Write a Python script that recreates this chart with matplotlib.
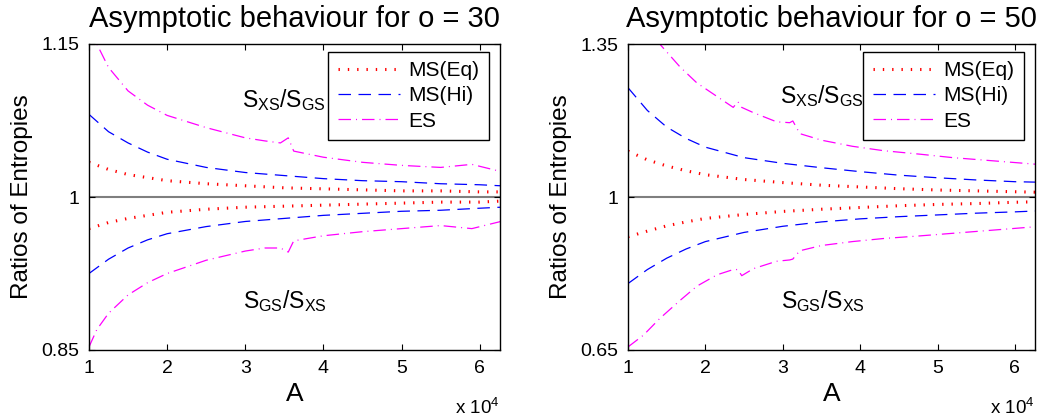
import matplotlib
matplotlib.use("Agg")
import matplotlib.pyplot as plt
from matplotlib.ticker import FuncFormatter

plt.rcParams['font.family'] = ['Liberation Sans', 'DejaVu Sans']
plt.rcParams['mathtext.fontset'] = 'custom'
plt.rcParams['mathtext.rm'] = 'Liberation Sans'
plt.rcParams['mathtext.it'] = 'Liberation Sans'

# ---- o = 30 ----
A30 = [10000, 12500, 15000, 17500, 20000, 25000, 30000, 35000, 40000, 45000, 50000, 55000, 60000, 62700]
eq30_up = [1.034, 1.027, 1.022, 1.019, 1.016, 1.013, 1.011, 1.009, 1.008, 1.007, 1.006, 1.006, 1.005, 1.005]
eq30_lo = [0.969, 0.975, 0.979, 0.982, 0.985, 0.988, 0.990, 0.991, 0.992, 0.993, 0.994, 0.995, 0.995, 0.996]
hi30_up = [1.081, 1.064, 1.053, 1.044, 1.037, 1.029, 1.024, 1.021, 1.018, 1.016, 1.015, 1.013, 1.012, 1.011]
hi30_lo = [0.925, 0.939, 0.950, 0.958, 0.964, 0.971, 0.976, 0.979, 0.982, 0.984, 0.986, 0.987, 0.989, 0.990]
A30_es = [10000, 11000, 12500, 15000, 17500, 20000, 25000, 30000, 32500, 34500, 35500, 36200,
          40000, 45000, 50000, 55000, 59000, 62700]
es30_up = [1.165, 1.150, 1.127, 1.104, 1.090, 1.080, 1.068, 1.058, 1.055, 1.053, 1.058, 1.045,
           1.039, 1.034, 1.031, 1.029, 1.032, 1.025]
es30_lo = [0.853, 0.870, 0.886, 0.904, 0.916, 0.925, 0.938, 0.947, 0.950, 0.950, 0.946, 0.957,
           0.962, 0.966, 0.969, 0.972, 0.969, 0.976]

# ---- o = 50 ----
A50 = [10000, 12500, 15000, 17500, 20000, 25000, 30000, 35000, 40000, 45000, 50000, 55000, 60000, 62700]
eq50_up = [1.105, 1.085, 1.071, 1.060, 1.051, 1.040, 1.033, 1.027, 1.023, 1.019, 1.016, 1.014, 1.012, 1.011]
eq50_lo = [0.909, 0.922, 0.934, 0.943, 0.951, 0.960, 0.967, 0.972, 0.976, 0.980, 0.983, 0.985, 0.988, 0.989]
hi50_up = [1.250, 1.198, 1.160, 1.134, 1.114, 1.090, 1.077, 1.067, 1.058, 1.050, 1.044, 1.039, 1.035, 1.034]
hi50_lo = [0.802, 0.834, 0.860, 0.881, 0.898, 0.919, 0.933, 0.943, 0.950, 0.955, 0.959, 0.963, 0.966, 0.968]
A50_es = [10000, 12000, 14100, 16700, 18900, 21500, 23600, 24200, 24700, 26200, 29200, 30900, 31300,
          32200, 35000, 39000, 43000, 47700, 52000, 56300, 62700]
es50_up = [1.470, 1.400, 1.350, 1.298, 1.261, 1.230, 1.205, 1.218, 1.205, 1.193, 1.172, 1.170, 1.174,
           1.145, 1.130, 1.116, 1.106, 1.098, 1.090, 1.084, 1.075]
es50_lo = [0.657, 0.684, 0.722, 0.763, 0.796, 0.822, 0.834, 0.834, 0.820, 0.836, 0.853, 0.856, 0.858,
           0.877, 0.889, 0.898, 0.905, 0.911, 0.917, 0.923, 0.932]

titles = ['Asymptotic behaviour for o = 30', 'Asymptotic behaviour for o = 50']
ylims = [(0.85, 1.15), (0.65, 1.35)]
yticks = [[0.85, 1, 1.15], [0.65, 1, 1.35]]
ytick_labels = [['0.85', '1', '1.15'], ['0.65', '1', '1.35']]
upper_label_pos = [(35000, 1.095), (35000, 1.23)]
lower_label_pos = [(35100, 0.898), (35200, 0.761)]

eq_style = dict(color='red', lw=2.2, linestyle=(0, (0.45, 2.6)), dash_capstyle='butt')
hi_style = dict(color='blue', lw=0.9, linestyle=(0, (10.0, 6.0)))
es_style = dict(color='magenta', lw=0.9, linestyle=(0, (10.0, 4.0, 0.8, 4.0)))

fig = plt.figure(figsize=(10.47, 4.2), dpi=100)
ax1 = fig.add_axes([89 / 1047, 70 / 420, 411 / 1047, 306 / 420])
ax2 = fig.add_axes([628 / 1047, 70 / 420, 407 / 1047, 306 / 420])

panels = [
    (ax1, A30, eq30_up, eq30_lo, hi30_up, hi30_lo, A30_es, es30_up, es30_lo),
    (ax2, A50, eq50_up, eq50_lo, hi50_up, hi50_lo, A50_es, es50_up, es50_lo),
]

for i, (ax, a, eq_u, eq_l, hi_u, hi_l, a_es, es_u, es_l) in enumerate(panels):
    ax.axhline(1, color='#7f7f7f', lw=1.5, zorder=1)
    ax.plot(a, eq_u, label='MS(Eq)', **eq_style)
    ax.plot(a, hi_u, label='MS(Hi)', **hi_style)
    ax.plot(a_es, es_u, label='ES', **es_style)
    ax.plot(a, eq_l, **eq_style)
    ax.plot(a, hi_l, **hi_style)
    ax.plot(a_es, es_l, **es_style)

    ax.set_xlim(10000, 62600)
    ax.set_ylim(*ylims[i])
    ax.set_xticks([10000, 20000, 30000, 40000, 50000, 60000])
    ax.xaxis.set_major_formatter(FuncFormatter(lambda v, p: '%d' % round(v / 1e4)))
    ax.set_yticks(yticks[i])
    ax.set_yticklabels(ytick_labels[i])
    ax.tick_params(direction='in', top=True, right=True, length=4, width=0.8,
                   labelsize=14, pad=7)
    for sp in ax.spines.values():
        sp.set_linewidth(1.0)

    ax.set_title(titles[i], fontsize=21, pad=12)
    ax.set_xlabel('A', fontsize=19, labelpad=4)
    ax.set_ylabel('Ratios of Entropies', fontsize=17.5, labelpad=6)
    ax.text(1.0, -0.19, r'x 10$^{4}$', transform=ax.transAxes, ha='right',
            va='center', fontsize=13.5)

    ax.text(*upper_label_pos[i], r'$\mathregular{S_{XS}/S_{GS}}$', fontsize=16.5,
            ha='center', va='center')
    ax.text(*lower_label_pos[i], r'$\mathregular{S_{GS}/S_{XS}}$', fontsize=16.5,
            ha='center', va='center')

    leg = ax.legend(loc='upper right', bbox_to_anchor=(0.973, 0.975), fontsize=15,
                    handlelength=3.0, handletextpad=0.4, labelspacing=0.3,
                    borderpad=0.45, borderaxespad=0, fancybox=False, framealpha=1,
                    edgecolor='black')
    leg.get_frame().set_linewidth(1.0)

fig.savefig('out.png', dpi=100)
